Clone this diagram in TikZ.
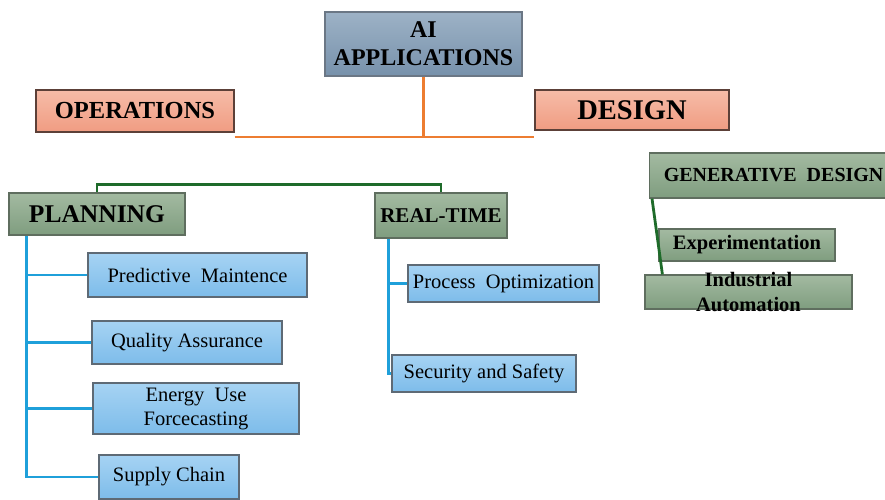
\documentclass[tikz,border=0pt]{standalone}
\usepackage{fontspec}
\setmainfont{Liberation Serif}

\definecolor{aitop}{HTML}{9DB2C6}
\definecolor{aibot}{HTML}{7791AB}
\definecolor{aiedge}{HTML}{6B7785}
\definecolor{optop}{HTML}{F6BCA8}
\definecolor{opbot}{HTML}{F09C82}
\definecolor{opedge}{HTML}{5C4038}
\definecolor{grtop}{HTML}{A3BAA1}
\definecolor{grbot}{HTML}{7F9D7F}
\definecolor{gredge}{HTML}{5F6E5F}
\definecolor{bltop}{HTML}{A6D3F3}
\definecolor{blbot}{HTML}{7DBCEA}
\definecolor{bledge}{HTML}{5E6A75}
\definecolor{orline}{HTML}{ED7D31}
\definecolor{grline}{HTML}{1E6B2A}
\definecolor{blline}{HTML}{1FA0DA}

\begin{document}
\begin{tikzpicture}[x=1pt,y=-1pt,
  rootbox/.style={draw=aiedge,line width=1.2pt,top color=aitop,bottom color=aibot,
    inner sep=0pt,align=center,font=\bfseries\fontsize{24}{28}\selectfont},
  opbox/.style={draw=opedge,line width=1.2pt,top color=optop,bottom color=opbot,inner sep=0pt},
  grbox/.style={draw=gredge,line width=1.2pt,top color=grtop,bottom color=grbot,inner sep=0pt},
  blbox/.style={draw=bledge,line width=1.2pt,top color=bltop,bottom color=blbot,inner sep=0pt,
    align=center,font=\fontsize{20.5}{24}\selectfont},
  orwire/.style={orline,line width=2.8pt},
  grwire/.style={grline,line width=2.8pt},
  blwire/.style={blline,line width=2.8pt}]
  \useasboundingbox (0,0) rectangle (885,499);
  \clip (0,0) rectangle (885,499);
  \pgfmathsetmacro\bus{137}   % height of the orange bus

% root and first level
  \node[rootbox,minimum width=197,minimum height=64] (ai) at (423.5,44) {AI\\APPLICATIONS};
  \node[opbox,minimum width=198,minimum height=42,font=\bfseries\fontsize{24.5}{28}\selectfont] (ops) at (135,111) {OPERATIONS};
  \node[opbox,minimum width=194,minimum height=40,font=\bfseries\fontsize{28.5}{32}\selectfont] (des) at (632,110) {DESIGN};
  \coordinate (obus) at (ai.south |- 0,\bus);
  \draw[orwire] (ai.south) -- (obus);
  \draw[orwire] (ops.east |- obus) -- (des.west |- obus);

% operations branch
  \node[grbox,minimum width=176,minimum height=42,font=\bfseries\fontsize{25.5}{30}\selectfont] (plan) at (97,214) {PLANNING};
  \node[grbox,minimum width=132,minimum height=45,font=\bfseries\fontsize{21}{24}\selectfont] (rt) at (441,215.5) {REAL-TIME};
  \draw[grwire] (plan.north) -- ++(0,-8) -| (rt.north);

% planning leaves
  \node[blbox,minimum width=219,minimum height=44] (pm) at (197.5,275) {Predictive\ \ Maintence};
  \node[blbox,minimum width=190,minimum height=43] (qa) at (187,342.5) {Quality Assurance};
  \node[blbox,minimum width=206,minimum height=51] (euf) at (196,408.5) {Energy\ \ Use\\Forcecasting};
  \node[blbox,minimum width=140,minimum height=44] (sc) at (169,477) {Supply Chain};
  \coordinate (pl) at ([xshift=18]plan.south west);
  \draw[blwire] (pl) |- (sc.west);
  \draw[blwire] (pl |- pm.west) -- (pm.west);
  \draw[blwire] (pl |- qa.west) -- (qa.west);
  \draw[blwire] (pl |- euf.west) -- (euf.west);

% real-time leaves
  \node[blbox,minimum width=191,minimum height=37] (po) at (503.5,283.5) {Process\ \ Optimization};
  \node[blbox,minimum width=184,minimum height=37] (ss) at (484,373.5) {Security and Safety};
  \coordinate (rl) at ([xshift=14]rt.south west);
  \draw[blwire] (rl) |- (ss.west);
  \draw[blwire] (rl |- po.west) -- (po.west);

% design branch
  \node[grbox,minimum width=250,minimum height=45,anchor=west,font=\bfseries\fontsize{20}{22}\selectfont] (gen) at (649,175.5) {\hspace*{-2pt}GENERATIVE\ \ DESIGN\hfill};
  \node[grbox,minimum width=176,minimum height=32,font=\bfseries\fontsize{20.5}{24}\selectfont] (exp) at (747,245) {Experimentation};
  \node[grbox,minimum width=207,minimum height=34] (ind) at (748.5,292) {};
  \node[align=center,inner sep=0pt,font=\bfseries\fontsize{20.5}{25}\selectfont] (indtxt) at (ind.center) {Industrial\\Automation};
  \draw[grwire] ([xshift=3]gen.south west) -- ([xshift=18]ind.north west);

\end{tikzpicture}
\end{document}
